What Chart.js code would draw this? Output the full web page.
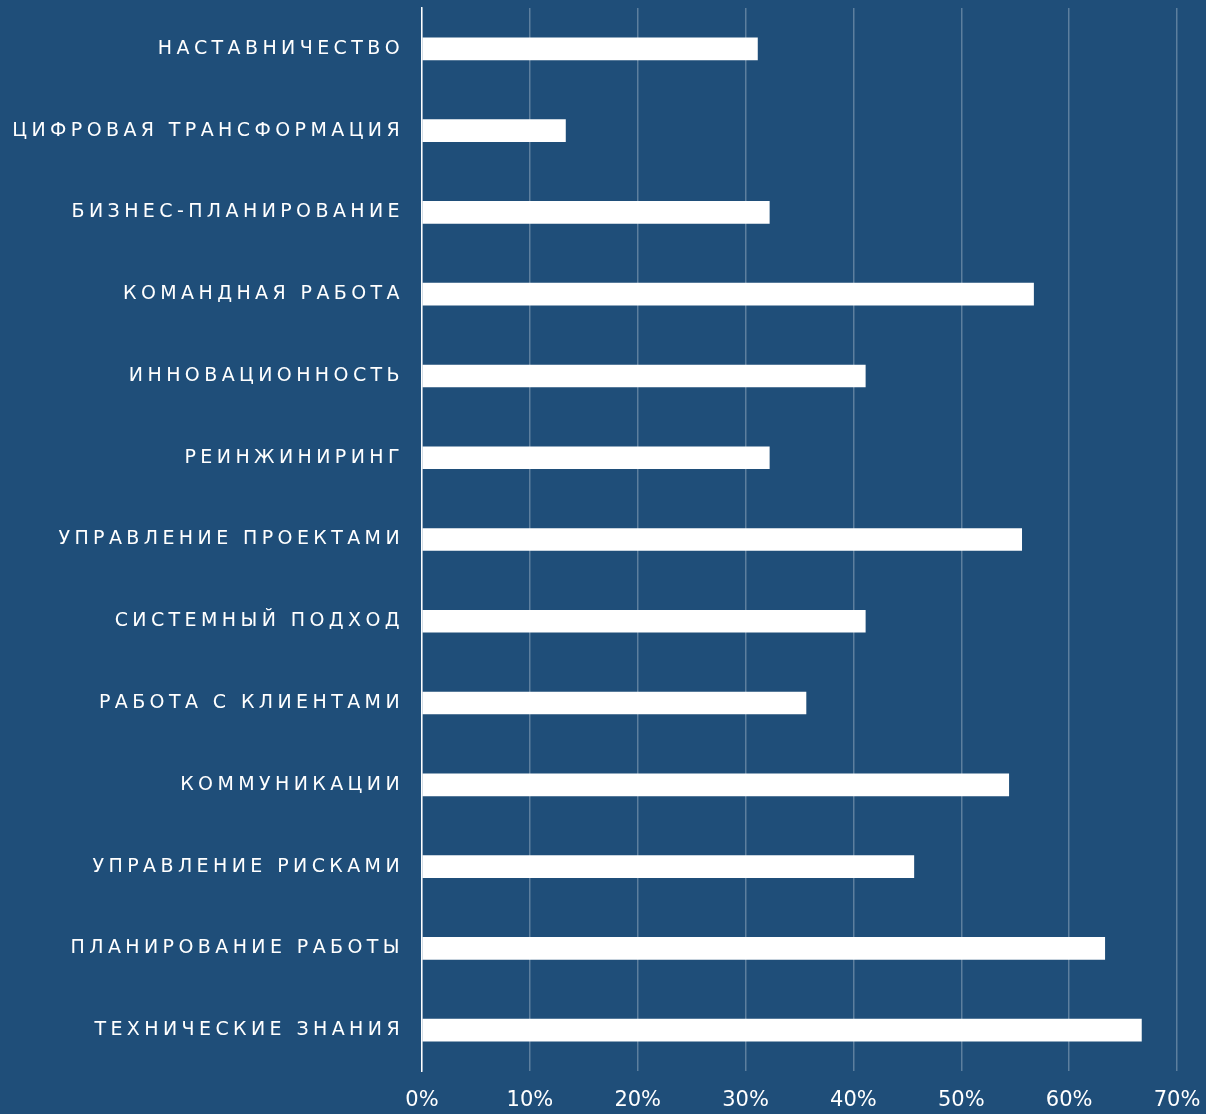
<!DOCTYPE html>
<html lang="ru">
<head>
<meta charset="utf-8">
<title>Компетенции</title>
<script src="https://cdn.jsdelivr.net/npm/chart.js@4/dist/chart.umd.min.js"></script>
<style>
  html, body { margin: 0; padding: 0; background: #1f4e79; }
  #grafico { display: block; }
</style>
</head>
<body>
<canvas id="grafico" width="1206" height="1114"></canvas>
<script>
// Categorias (de cima para baixo)
const competencias = [
    "НАСТАВНИЧЕСТВО",
    "ЦИФРОВАЯ ТРАНСФОРМАЦИЯ",
    "БИЗНЕС-ПЛАНИРОВАНИЕ",
    "КОМАНДНАЯ РАБОТА",
    "ИННОВАЦИОННОСТЬ",
    "РЕИНЖИНИРИНГ",
    "УПРАВЛЕНИЕ ПРОЕКТАМИ",
    "СИСТЕМНЫЙ ПОДХОД",
    "РАБОТА С КЛИЕНТАМИ",
    "КОММУНИКАЦИИ",
    "УПРАВЛЕНИЕ РИСКАМИ",
    "ПЛАНИРОВАНИЕ РАБОТЫ",
    "ТЕХНИЧЕСКИЕ ЗНАНИЯ"
];

// Percentagens
const percentagens = [31.1, 13.3, 32.2, 56.7, 41.1, 32.2, 55.6, 41.1, 35.6, 54.4, 45.6, 63.3, 66.7];

// Escala do eixo X
const eixoMin = 0;
const eixoMax = 70;
const eixoPasso = 10;

const FONTE = "'DejaVu Sans', sans-serif";

// Espaçamento entre letras só nos rótulos do eixo Y
const espacamentoLetras = {
    id: 'espacamentoLetras',
    beforeDraw(chart) {
        const escala = chart.scales.y;
        if (escala._comEspaco) return;
        const original = escala.drawLabels;
        escala.drawLabels = function (area) {
            const ctx = this.ctx;
            const antes = ctx.letterSpacing;
            ctx.letterSpacing = '4.4px';
            original.call(this, area);
            ctx.letterSpacing = antes || '0px';
        };
        escala._comEspaco = true;
    }
};

new Chart(document.getElementById('grafico'), {
    type: 'bar',
    data: {
        labels: competencias,
        datasets: [{
            data: percentagens,
            backgroundColor: '#ffffff',
            borderWidth: 0,
            barThickness: 22
        }]
    },
    options: {
        indexAxis: 'y',
        responsive: false,
        animation: false,
        devicePixelRatio: 1,
        layout: { padding: { top: 8, right: 29, left: 0, bottom: 0 } },
        plugins: {
            legend: { display: false },
            tooltip: { enabled: false }
        },
        scales: {
            x: {
                min: eixoMin,
                max: eixoMax,
                ticks: {
                    stepSize: eixoPasso,
                    color: '#ffffff',
                    font: { family: FONTE, size: 21 },
                    padding: 17,
                    callback: v => v + '%'
                },
                grid: {
                    color: 'rgba(255,255,255,0.28)',
                    lineWidth: 1.5,
                    drawTicks: false
                },
                border: { display: false },
                afterFit(scale) {
                    scale.height = 43;
                    scale.paddingLeft = 0;
                    scale.paddingRight = 0;
                }
            },
            y: {
                ticks: {
                    color: '#ffffff',
                    font: { family: FONTE, size: 19 },
                    padding: 18
                },
                grid: { display: false, drawTicks: false },
                border: { display: true, color: '#ffffff', width: 1.5 },
                afterFit(scale) {
                    scale.width = 422;
                    scale.paddingTop = 0;
                    scale.paddingBottom = 0;
                }
            }
        }
    },
    plugins: [espacamentoLetras]
});
</script>
</body>
</html>
